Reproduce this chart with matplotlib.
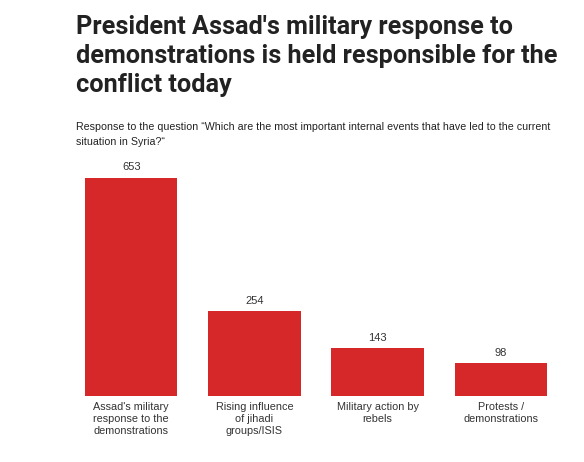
import matplotlib
matplotlib.use("Agg")
import matplotlib.pyplot as plt

categories = ["Assad's military\nresponse to the\ndemonstrations",
              "Rising influence\nof jihadi\ngroups/ISIS",
              "Military action by\nrebels",
              "Protests /\ndemonstrations"]
counts = [653, 254, 143, 98]

title = ("President Assad's military response to\n"
         "demonstrations is held responsible for the\n"
         "conflict today")
subtitle = ("Response to the question \u201cWhich are the most important internal events that have led to the current\n"
            "situation in Syria?\u201c")

W, H = 584, 462
fig = plt.figure(figsize=(W / 100, H / 100), dpi=100)
fig.patch.set_facecolor("white")

# axes box in pixels: left 85, right 547, top 178, bottom 396
ax = fig.add_axes([85 / W, 1 - 396 / H, (547 - 85) / W, (396 - 178) / H])
x = range(len(counts))
ax.bar(x, counts, width=0.75, color="#d62828")
ax.set_xlim(-0.375, 3.375)
ax.set_ylim(0, 653)
ax.axis("off")

for i, v in enumerate(counts):
    ax.annotate(str(v), (i, v), xytext=(0, 4), textcoords="offset points",
                ha="center", va="bottom", fontsize=8, color="#333333",
                family="Liberation Sans", annotation_clip=False)
    ax.annotate(categories[i], (i, 0), xytext=(0, -4), textcoords="offset points",
                ha="center", va="top", fontsize=7.8, color="#333333",
                family="Liberation Sans", linespacing=1.3, annotation_clip=False)

fig.text(76 / W, 1 - 15 / H, title, ha="left", va="top", fontsize=18.2,
         fontweight="bold", family="Roboto", color="#222222", linespacing=1.27)
fig.text(76 / W, 1 - 122 / H, subtitle, ha="left", va="top", fontsize=7.7,
         family="Liberation Sans", color="#222222", linespacing=1.6)

fig.savefig("out.png", dpi=100)
